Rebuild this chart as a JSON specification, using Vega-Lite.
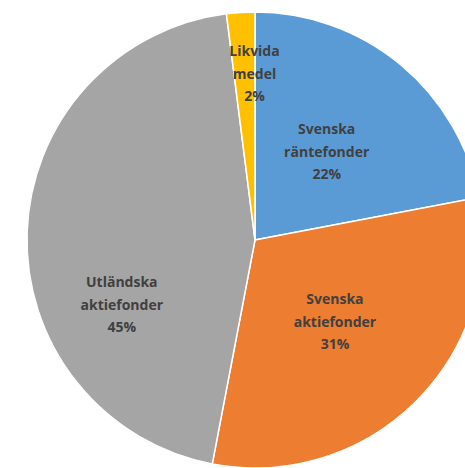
{
  "$schema": "https://vega.github.io/schema/vega-lite/v6.json",
  "autosize": {"type": "none"},
  "padding": {"left": 45, "top": 12, "right": 0, "bottom": 0},
  "width": 420,
  "height": 456,
  "background": "white",
  "view": {"stroke": null},
  "data": {
    "values": [
      {"category": "Svenska räntefonder", "line1": "Svenska", "line2": "räntefonder", "share": 22, "order": 1},
      {"category": "Svenska aktiefonder", "line1": "Svenska", "line2": "aktiefonder", "share": 31, "order": 2},
      {"category": "Utländska aktiefonder", "line1": "Utländska", "line2": "aktiefonder", "share": 45, "order": 3},
      {"category": "Likvida medel", "line1": "Likvida", "line2": "medel", "share": 2, "order": 4}
    ]
  },
  "transform": [
    {"calculate": "[datum.line1, datum.line2, datum.share + '%']", "as": "label"}
  ],
  "encoding": {
    "theta": {"field": "share", "type": "quantitative", "stack": true},
    "order": {"field": "order", "type": "quantitative"},
    "color": {
      "field": "category",
      "type": "nominal",
      "legend": null,
      "scale": {
        "domain": ["Svenska räntefonder", "Svenska aktiefonder", "Utländska aktiefonder", "Likvida medel"],
        "range": ["#5B9BD5", "#ED7D31", "#A5A5A5", "#FFC000"]
      }
    }
  },
  "layer": [
    {
      "mark": {"type": "arc", "outerRadius": 228, "stroke": "white", "strokeWidth": 1.5}
    },
    {
      "mark": {
        "type": "text",
        "font": "Open Sans",
        "fontWeight": "bold",
        "fontSize": 14,
        "lineHeight": 22.5,
        "align": "center",
        "baseline": "middle",
        "radius": {"expr": "datum.category === 'Likvida medel' ? 188 : datum.category === 'Utländska aktiefonder' ? 140 : datum.category === 'Svenska aktiefonder' ? 100 : 131"},
        "thetaOffset": {"expr": "datum.category === 'Utländska aktiefonder' ? -0.344 : datum.category === 'Likvida medel' ? 0.06 : datum.category === 'Svenska aktiefonder' ? -0.141 : -0.112"}
      },
      "encoding": {
        "text": {"field": "label"},
        "color": {"value": "#404040"}
      }
    }
  ]
}
